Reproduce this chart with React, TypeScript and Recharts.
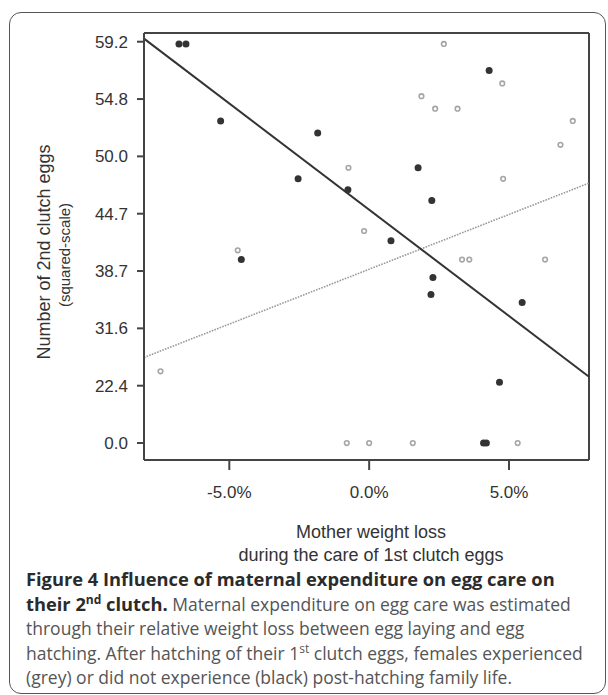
import React from "react";
import { ScatterChart, Scatter, XAxis, YAxis, ReferenceLine } from "recharts";

// weight loss of mother (%) and number of 2nd clutch eggs
const blackLoss = [-6.8, -6.55, -5.31, -1.84, -2.54, -0.76, -4.57, 4.29, 1.75, 2.24, 0.78, 2.28, 2.21, 5.47, 4.66, 4.09, 4.19];
const blackEggs = [59, 59, 53, 52, 48, 47, 40, 57, 49, 46, 42, 38, 36, 35, 23, 0, 0];

const greyLoss = [2.67, 4.76, 1.87, 2.36, 3.16, 7.28, 6.84, -0.74, 4.79, -0.18, -4.7, 3.32, 3.58, 6.29, -7.46, -0.8, 0, 1.56, 5.31];
const greyEggs = [59, 56, 55, 54, 54, 53, 51, 49, 48, 43, 41, 40, 40, 40, 25, 0, 0, 0, 0];

// fitted lines, end points in (loss, eggs^2)
const blackFitX = [-8.05, 7.86];
const blackFitY = [3527, 578];
const greyFitX = [-8.05, 7.86];
const greyFitY = [746, 2267];

const xTicks = [-5, 0, 5];
const yTicks = [0, 500, 1000, 1500, 2000, 2500, 3000, 3500];
const xDomain = [-8.05, 7.86];
const yDomain = [-148, 3576];

const blackData = blackLoss.map((x, i) => ({ x, y: blackEggs[i] ** 2 }));
const greyData = greyLoss.map((x, i) => ({ x, y: greyEggs[i] ** 2 }));

const DARK = "#333";
const GREY = "#a6a6a6";
const AXIS = "#444";

const Dot = (props: any) => <circle cx={props.cx} cy={props.cy} r={3.5} fill={DARK} />;
const Ring = (props: any) => (
  <circle cx={props.cx} cy={props.cy} r={2.3} fill="none" stroke={GREY} strokeWidth={1.6} />
);

const sup = { fontSize: 12, verticalAlign: "super", lineHeight: 0 } as const;
const bold = { fontWeight: 700, color: "#2b2b2b", fontSize: 18.3 } as const;

export default function App() {
  return (
    <div style={{ position: "absolute", left: 0, top: 0, width: 608, height: 695, overflow: "hidden", background: "#fff" }}>
      <div
        style={{
          position: "absolute",
          left: 9,
          top: 12,
          width: 597,
          height: 682,
          border: "1.5px solid #555",
          borderRadius: 12,
          boxSizing: "border-box",
        }}
      />
      <div style={{ position: "absolute", left: 0, top: 0 }}>
        <ScatterChart
          width={608}
          height={520}
          margin={{ top: 33, right: 19, left: 84, bottom: 20 }}
          style={{ fontFamily: "'Liberation Sans', Arial, sans-serif" }}
        >
          <XAxis
            type="number"
            dataKey="x"
            domain={xDomain}
            ticks={xTicks}
            allowDataOverflow
            height={40}
            tickSize={10}
            tickMargin={16}
            tickFormatter={(v) => `${Number(v).toFixed(1)}%`}
            tick={{ fontSize: 17, fill: DARK }}
            axisLine={{ stroke: AXIS, strokeWidth: 2 }}
            tickLine={{ stroke: AXIS, strokeWidth: 2 }}
          />
          <YAxis
            type="number"
            dataKey="y"
            domain={yDomain}
            ticks={yTicks}
            allowDataOverflow
            width={60}
            tickSize={7}
            tickMargin={9}
            tickFormatter={(v) => Math.sqrt(Number(v)).toFixed(1)}
            tick={{ fontSize: 17, fill: DARK }}
            axisLine={{ stroke: AXIS, strokeWidth: 2 }}
            tickLine={{ stroke: AXIS, strokeWidth: 2 }}
          />
          <ReferenceLine y={yDomain[1]} stroke={AXIS} strokeWidth={2} />
          <ReferenceLine x={xDomain[1]} stroke={AXIS} strokeWidth={2} />
          <ReferenceLine
            segment={[
              { x: greyFitX[0], y: greyFitY[0] },
              { x: greyFitX[1], y: greyFitY[1] },
            ]}
            stroke="#9a9a9a"
            strokeWidth={1.6}
            strokeDasharray="1.6 1.2"
          />
          <ReferenceLine
            segment={[
              { x: blackFitX[0], y: blackFitY[0] },
              { x: blackFitX[1], y: blackFitY[1] },
            ]}
            stroke={DARK}
            strokeWidth={2}
          />
          <Scatter data={greyData} shape={Ring} isAnimationActive={false} />
          <Scatter data={blackData} shape={Dot} isAnimationActive={false} />
        </ScatterChart>
      </div>

      <div
        style={{
          position: "absolute",
          left: 44,
          top: 252,
          transform: "translate(-50%, -50%) rotate(-90deg)",
          whiteSpace: "nowrap",
          fontFamily: "'Liberation Sans', Arial, sans-serif",
          fontSize: 18,
          color: DARK,
        }}
      >
        Number of 2nd clutch eggs
      </div>
      <div
        style={{
          position: "absolute",
          left: 64,
          top: 255,
          transform: "translate(-50%, -50%) rotate(-90deg)",
          whiteSpace: "nowrap",
          fontFamily: "'Liberation Sans', Arial, sans-serif",
          fontSize: 15,
          color: DARK,
        }}
      >
        (squared-scale)
      </div>
      <div
        style={{
          position: "absolute",
          left: 371,
          top: 521,
          transform: "translateX(-50%)",
          whiteSpace: "nowrap",
          textAlign: "center",
          fontFamily: "'Liberation Sans', Arial, sans-serif",
          fontSize: 18,
          lineHeight: "23px",
          color: DARK,
        }}
      >
        <div>Mother weight loss</div>
        <div>during the care of 1st clutch eggs</div>
      </div>

      <div
        style={{
          position: "absolute",
          left: 26,
          top: 567,
          whiteSpace: "nowrap",
          fontFamily: "'Open Sans', sans-serif",
          fontSize: 17.5,
          lineHeight: "24.5px",
          color: "#555",
        }}
      >
        <div style={bold}>Figure 4 Influence of maternal expenditure on egg care on</div>
        <div>
          <span style={bold}>
            their 2<span style={sup}>nd</span> clutch.
          </span>{" "}
          Maternal expenditure on egg care was estimated
        </div>
        <div>through their relative weight loss between egg laying and egg</div>
        <div>
          hatching. After hatching of their 1<span style={sup}>st</span> clutch eggs, females experienced
        </div>
        <div>(grey) or did not experience (black) post-hatching family life.</div>
      </div>
    </div>
  );
}
